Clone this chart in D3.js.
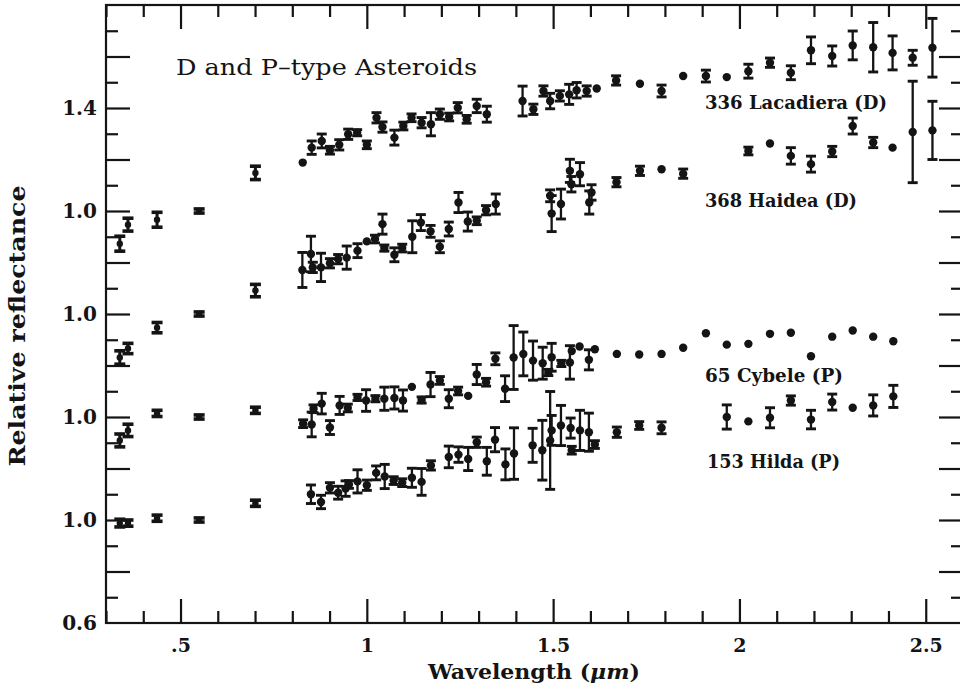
<!DOCTYPE html>
<html><head><meta charset="utf-8">
<script src="https://cdn.jsdelivr.net/npm/d3@7"></script>
<style>body{margin:0;background:#fff} svg{display:block}</style>
</head><body>
<svg id="chart" width="960" height="685"></svg>
<script>
// ---------- DATA ----------
const ecasWavelengths = [0.337, 0.359, 0.437, 0.550, 0.701];

const lacadieraECAS = [0.873, 0.947, 0.966, 1.000, 1.148];
const lacadieraECASErr = [0.029, 0.025, 0.029, 0.008, 0.026];
const haideaECAS = [0.831, 0.866, 0.947, 1.000, 1.091];
const haideaECASErr = [0.026, 0.020, 0.020, 0.008, 0.024];
const cybeleECAS = [0.909, 0.948, 1.014, 1.000, 1.026];
const cybeleECASErr = [0.025, 0.024, 0.012, 0.008, 0.012];
const hildaECAS = [0.988, 0.988, 1.007, 1.000, 1.065];
const hildaECASErr = [0.015, 0.012, 0.012, 0.008, 0.012];

// [wavelength, relative reflectance, error]
const lacadieraIR = [
 [0.828,1.188,0],[0.852,1.246,0.026],[0.879,1.272,0.027],[0.901,1.236,0.015],[0.926,1.257,0.020],
 [0.950,1.298,0.020],[0.974,1.304,0.012],[1.000,1.257,0.015],[1.026,1.362,0.020],[1.042,1.326,0.020],
 [1.074,1.285,0.029],[1.098,1.330,0.015],[1.120,1.362,0.015],[1.147,1.343,0.020],[1.172,1.337,0.045],
 [1.196,1.376,0.020],[1.221,1.365,0.015],[1.244,1.401,0.020],[1.268,1.356,0.015],[1.295,1.408,0.026],
 [1.322,1.376,0.031],[1.418,1.427,0.058],[1.447,1.395,0.020],[1.474,1.466,0.020],[1.492,1.427,0.030],
 [1.518,1.447,0.020],[1.543,1.453,0.039],[1.563,1.469,0.030],[1.590,1.466,0.020],[1.617,1.476,0],
 [1.669,1.507,0.018],[1.733,1.494,0],[1.791,1.466,0.023],[1.849,1.524,0],[1.910,1.524,0.023],
 [1.966,1.520,0],[2.024,1.543,0.027],[2.082,1.576,0.018],[2.138,1.537,0.027],[2.192,1.624,0.052],
 [2.249,1.602,0.039],[2.304,1.643,0.056],[2.359,1.636,0.096],[2.411,1.614,0.066],[2.465,1.595,0.029],
 [2.518,1.634,0.114]
];
const haideaIR = [
 [0.827,1.171,0.068],[0.850,1.233,0.069],[0.855,1.181,0.020],[0.877,1.181,0.055],[0.901,1.197,0.018],
 [0.923,1.213,0.018],[0.946,1.219,0.045],[0.975,1.246,0.027],[1.000,1.282,0],[1.022,1.291,0.015],
 [1.042,1.349,0.039],[1.047,1.256,0.012],[1.074,1.230,0.027],[1.095,1.256,0.015],[1.122,1.300,0.062],
 [1.145,1.355,0.031],[1.171,1.321,0.023],[1.196,1.261,0.023],[1.220,1.330,0.027],[1.246,1.433,0.039],
 [1.271,1.359,0.037],[1.295,1.362,0.015],[1.320,1.403,0.018],[1.346,1.427,0.039],[1.492,1.459,0.023],
 [1.496,1.390,0.070],[1.521,1.427,0.058],[1.545,1.556,0.045],[1.549,1.504,0.030],[1.572,1.543,0.045],
 [1.597,1.433,0.045],[1.603,1.472,0.030],[1.670,1.512,0.018],[1.733,1.556,0.018],[1.791,1.562,0],
 [1.849,1.545,0.018],[2.024,1.633,0.015],[2.082,1.662,0],[2.138,1.614,0.032],[2.192,1.582,0.031],
 [2.249,1.631,0.020],[2.304,1.730,0.031],[2.359,1.666,0.020],[2.411,1.646,0],[2.465,1.707,0.197],
 [2.518,1.713,0.113]
];
const cybeleIR = [
 [0.829,0.974,0.015],[0.852,0.971,0.048],[0.857,1.032,0.015],[0.879,1.052,0.040],[0.901,0.959,0.027],
 [0.927,1.045,0.035],[0.949,1.035,0.015],[0.975,1.076,0.012],[0.998,1.064,0.042],[1.023,1.071,0.012],
 [1.047,1.071,0.045],[1.074,1.074,0.043],[1.097,1.064,0.041],[1.121,1.117,0],[1.147,1.066,0.012],
 [1.171,1.126,0.047],[1.196,1.142,0.015],[1.220,1.071,0.035],[1.245,1.101,0.015],[1.272,1.082,0],
 [1.295,1.165,0.039],[1.320,1.135,0.015],[1.345,1.226,0.023],[1.371,1.110,0.050],[1.394,1.231,0.124],
 [1.420,1.245,0.085],[1.446,1.219,0.076],[1.472,1.209,0.062],[1.487,1.173,0.012],[1.496,1.232,0.054],
 [1.522,1.208,0.012],[1.545,1.212,0.065],[1.550,1.256,0],[1.571,1.274,0],[1.596,1.222,0.039],
 [1.612,1.263,0],[1.671,1.245,0],[1.731,1.243,0],[1.791,1.245,0],[1.849,1.269,0],
 [1.910,1.325,0],[1.966,1.281,0],[2.024,1.284,0],[2.082,1.323,0],[2.138,1.327,0],
 [2.192,1.236,0],[2.249,1.312,0],[2.304,1.336,0],[2.359,1.312,0],[2.413,1.294,0]
];
const hildaIR = [
 [0.850,1.100,0.036],[0.877,1.070,0.026],[0.901,1.125,0.020],[0.923,1.106,0.025],[0.943,1.122,0.030],
 [0.952,1.138,0.015],[0.975,1.150,0.045],[1.000,1.135,0.020],[1.025,1.183,0.027],[1.048,1.169,0.047],
 [1.072,1.153,0.015],[1.095,1.145,0.015],[1.121,1.164,0.037],[1.147,1.148,0.052],[1.172,1.212,0.018],
 [1.220,1.245,0.042],[1.246,1.254,0.030],[1.272,1.237,0.045],[1.295,1.302,0.020],[1.322,1.228,0.054],
 [1.344,1.312,0.047],[1.372,1.216,0.060],[1.395,1.258,0.100],[1.445,1.290,0.066],[1.471,1.271,0.116],
 [1.492,1.309,0.190],[1.496,1.348,0.058],[1.521,1.367,0.078],[1.547,1.357,0.039],[1.550,1.271,0.015],
 [1.572,1.348,0.078],[1.596,1.341,0.074],[1.612,1.293,0.015],[1.671,1.341,0.020],[1.731,1.367,0.015],
 [1.791,1.358,0.023],[1.966,1.400,0.047],[2.024,1.383,0],[2.082,1.397,0.039],[2.138,1.464,0.018],
 [2.192,1.390,0.036],[2.249,1.458,0.031],[2.304,1.436,0],[2.359,1.445,0.041],[2.413,1.480,0.043]
];

const asteroidNames = ["336 Lacadiera (D)", "368 Haidea (D)", "65 Cybele (P)", "153 Hilda (P)"];
const asteroidOffsets = [1.2, 0.8, 0.4, 0.0];

const xMajorTicks = [0.5, 1.0, 1.5, 2.0, 2.5];
const xMajorLabels = [".5", "1", "1.5", "2", "2.5"];
const yLabelTicks = [0.6, 1.0, 1.4, 1.8, 2.2, 2.6];
const yLabelTexts = ["0.6", "1.0", "1.0", "1.0", "1.0", "1.4"];

const titleText = "D and P\u2013type Asteroids";

// ---------- CHART ----------
const svg = d3.select("#chart");
const L = 106, R = 963, T = 5, B = 623;
const x = d3.scaleLinear().domain([0.3, 2.6]).range([L, R]);
const y = d3.scaleLinear().domain([0.6, 3.0]).range([B, T]);

const serif = "'DejaVu Serif', 'Liberation Serif', serif";
const ink = "#141414";

const series = [
  {ecas: lacadieraECAS, ecasErr: lacadieraECASErr, ir: lacadieraIR},
  {ecas: haideaECAS, ecasErr: haideaECASErr, ir: haideaIR},
  {ecas: cybeleECAS, ecasErr: cybeleECASErr, ir: cybeleIR},
  {ecas: hildaECAS, ecasErr: hildaECASErr, ir: hildaIR}
].map((s, i) => ({...s, name: asteroidNames[i], off: asteroidOffsets[i]}));

// axes
const minorX = d3.range(3, 27).map(d => d / 10).filter(d => Math.abs(d * 2 - Math.round(d * 2)) > 1e-6);
const majorY = d3.range(4, 15).map(d => d / 5);
const minorY = d3.range(7, 30, 2).map(d => d / 10);

function styleAxis(g, size) {
  g.select(".domain").remove();
  g.selectAll(".tick line").attr("stroke", ink).attr("stroke-width", 2.2);
  g.selectAll("text").attr("font-family", serif).attr("font-weight", "bold")
   .attr("font-size", size || 20).attr("fill", ink);
  g.attr("font-family", null).attr("font-size", null);
}

svg.append("g").attr("transform", `translate(0,${B})`)
  .call(d3.axisBottom(x).tickValues(xMajorTicks).tickSizeInner(-24).tickSizeOuter(0).tickPadding(16)
    .tickFormat((d, i) => xMajorLabels[i])).call(g => styleAxis(g, 19));
svg.append("g").attr("transform", `translate(0,${B})`)
  .call(d3.axisBottom(x).tickValues(minorX).tickSizeInner(-12).tickSizeOuter(0).tickFormat("")).call(styleAxis);
svg.append("g").attr("transform", `translate(0,${T})`)
  .call(d3.axisTop(x).tickValues(xMajorTicks).tickSizeInner(-24).tickSizeOuter(0).tickFormat("")).call(styleAxis);
svg.append("g").attr("transform", `translate(0,${T})`)
  .call(d3.axisTop(x).tickValues(minorX).tickSizeInner(-12).tickSizeOuter(0).tickFormat("")).call(styleAxis);

svg.append("g").attr("transform", `translate(${L},0)`)
  .call(d3.axisLeft(y).tickValues(majorY).tickSizeInner(-24).tickSizeOuter(0).tickFormat("")).call(styleAxis);
svg.append("g").attr("transform", `translate(${L},0)`)
  .call(d3.axisLeft(y).tickValues(minorY).tickSizeInner(-12).tickSizeOuter(0).tickFormat("")).call(styleAxis);
svg.append("g").attr("transform", `translate(${L},0)`)
  .call(d3.axisLeft(y).tickValues(yLabelTicks).tickSizeInner(0).tickSizeOuter(0).tickPadding(9)
    .tickFormat((d, i) => yLabelTexts[i])).call(styleAxis);
svg.append("g").attr("transform", `translate(${R},0)`)
  .call(d3.axisRight(y).tickValues(majorY).tickSizeInner(-24).tickSizeOuter(0).tickFormat("")).call(styleAxis);
svg.append("g").attr("transform", `translate(${R},0)`)
  .call(d3.axisRight(y).tickValues(minorY).tickSizeInner(-12).tickSizeOuter(0).tickFormat("")).call(styleAxis);

// frame
svg.append("rect").attr("x", L).attr("y", T).attr("width", R - L).attr("height", B - T)
  .attr("fill", "none").attr("stroke", ink).attr("stroke-width", 2.2);

// marks
const marks = svg.append("g");
function drawPoint(g, w, v, e, r, cap, sw) {
  const cx = x(w);
  if (e > 0) {
    const y1 = y(v + e), y2 = y(v - e);
    g.append("line").attr("x1", cx).attr("x2", cx).attr("y1", y1).attr("y2", y2)
      .attr("stroke", ink).attr("stroke-width", sw);
    [y1, y2].forEach(yy => g.append("line").attr("x1", cx - cap).attr("x2", cx + cap)
      .attr("y1", yy).attr("y2", yy).attr("stroke", ink).attr("stroke-width", sw + 0.6));
  }
  g.append("circle").attr("cx", cx).attr("cy", y(v)).attr("r", r).attr("fill", ink);
}
series.forEach(s => {
  const g = marks.append("g");
  s.ecas.forEach((v, i) => drawPoint(g, ecasWavelengths[i], v + s.off, s.ecasErr[i], 3.2, 5.5, 3));
  s.ir.forEach(d => drawPoint(g, d[0], d[1] + s.off, d[2], 4.2, 5, 2.3));
});

// texts
svg.append("text").attr("x", 176).attr("y", 75).attr("font-family", serif).attr("font-size", 23)
  .attr("fill", ink).attr("textLength", 301).attr("lengthAdjust", "spacingAndGlyphs").text(titleText);

const labelPos = [[705, 109, 182], [705, 207, 152], [705, 382, 138], [707, 468, 133]];
series.forEach((s, i) => {
  svg.append("text").attr("x", labelPos[i][0]).attr("y", labelPos[i][1])
    .attr("font-family", serif).attr("font-weight", "bold").attr("font-size", 18).attr("fill", ink)
    .attr("textLength", labelPos[i][2]).attr("lengthAdjust", "spacingAndGlyphs").text(s.name);
});

const xt = svg.append("text").attr("x", 534).attr("y", 679).attr("text-anchor", "middle")
  .attr("font-family", serif).attr("font-weight", "bold").attr("font-size", 20).attr("fill", ink)
  .attr("textLength", 212).attr("lengthAdjust", "spacingAndGlyphs");
xt.append("tspan").text("Wavelength (");
xt.append("tspan").attr("font-style", "italic").text("\u03bcm");
xt.append("tspan").text(")");

svg.append("text").attr("transform", "translate(25,326) rotate(-90)").attr("text-anchor", "middle")
  .attr("font-family", serif).attr("font-weight", "bold").attr("font-size", 22).attr("fill", ink)
  .attr("textLength", 281).attr("lengthAdjust", "spacingAndGlyphs").text("Relative reflectance");
</script>
</body></html>
